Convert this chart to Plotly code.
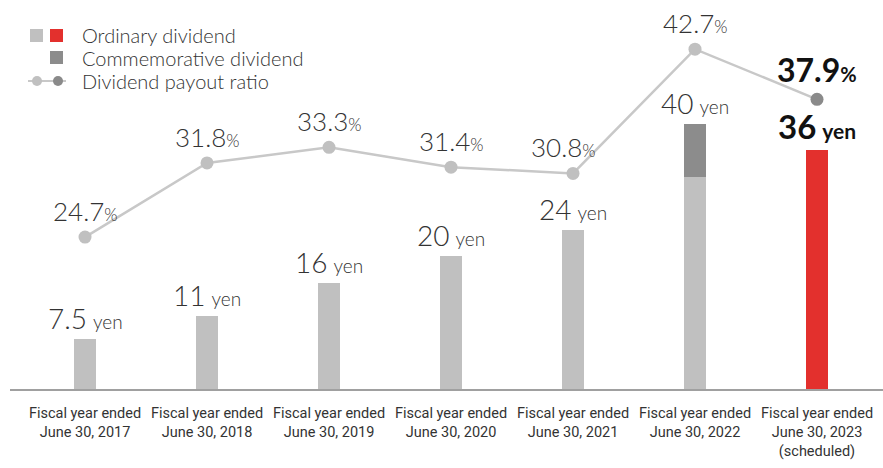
import plotly.graph_objects as go

categories = ["FY2017", "FY2018", "FY2019", "FY2020", "FY2021", "FY2022", "FY2023"]
tick_labels = [
    "Fiscal year ended<br>June 30, 2017",
    "Fiscal year ended<br>June 30, 2018",
    "Fiscal year ended<br>June 30, 2019",
    "Fiscal year ended<br>June 30, 2020",
    "Fiscal year ended<br>June 30, 2021",
    "Fiscal year ended<br>June 30, 2022",
    "Fiscal year ended<br>June 30, 2023<br>(scheduled)",
]
ordinary_dividend = [7.5, 11, 16, 20, 24, 32, 36]
commemorative_dividend = [0, 0, 0, 0, 0, 8, 0]
total_dividend = [7.5, 11, 16, 20, 24, 40, 36]
dividend_labels = ["7.5", "11", "16", "20", "24", "40", "36"]
payout_ratio = [24.7, 31.8, 33.3, 31.4, 30.8, 42.7, 37.9]
payout_labels = ["24.7", "31.8", "33.3", "31.4", "30.8", "42.7", "37.9"]

LIGHT = "#c0c0c0"
DARK = "#8c8c8c"
RED = "#e3302d"
TXT = "#333333"
FONT = "Lato, 'Open Sans', sans-serif"
SP = "\u2002"

xs = list(range(len(categories)))
ord_colors = [LIGHT] * (len(xs) - 1) + [RED]
marker_colors = [LIGHT] * (len(xs) - 1) + ["#8a8a8a"]

fig = go.Figure()
fig.add_trace(go.Bar(x=xs, y=ordinary_dividend, marker_color=ord_colors, width=0.186,
                     marker_line_width=0, showlegend=False, yaxis="y"))
fig.add_trace(go.Bar(x=xs, y=commemorative_dividend, marker_color=DARK, width=0.186,
                     marker_line_width=0, showlegend=False, yaxis="y"))
fig.add_trace(go.Scatter(x=xs, y=payout_ratio, yaxis="y2", mode="lines+markers",
                         line=dict(color="#c8c8c8", width=2.5),
                         marker=dict(size=13, color=marker_colors),
                         showlegend=False))

annotations = []
last = len(xs) - 1
for i in xs:
    if i == last:
        txt = (f"<span style='font-size:33px;font-weight:bold;color:#111'>{dividend_labels[i]}</span>"
               f"{SP}<span style='font-size:21px;font-weight:bold;color:#111'>yen</span>")
    else:
        txt = (f"<span style='font-size:28px;font-weight:300'>{dividend_labels[i]}</span>"
               f"{SP}<span style='font-size:19px;font-weight:300'>yen</span>")
    annotations.append(dict(x=i, y=total_dividend[i], xref="x", yref="y", text=txt,
                            showarrow=False, yanchor="bottom", yshift=2,
                            font=dict(family=FONT, color=TXT)))
    if i == last:
        ptxt = (f"<span style='font-size:32px;font-weight:bold;color:#111'>{payout_labels[i]}</span>"
                f"<span style='font-size:20px;font-weight:bold;color:#111'>%</span>")
        xsft = 0
    else:
        ptxt = (f"<span style='font-size:26px;font-weight:300'>{payout_labels[i]}</span>"
                f"<span style='font-size:17px;font-weight:300'>%</span>")
        xsft = -10 if i == 4 else 0
    annotations.append(dict(x=i, y=payout_ratio[i], xref="x", yref="y2", text=ptxt,
                            showarrow=False, yanchor="bottom", yshift=8, xshift=xsft,
                            font=dict(family=FONT, color=TXT)))

# legend (drawn manually)
W = 873.0
H = 389.0
def px(x):
    return (x - 10) / W
def py(y):
    return (H - y) / H

shapes = []
for (x0, y0, c) in [(30, 29, LIGHT), (50, 29, RED), (50, 51, DARK)]:
    shapes.append(dict(type="rect", xref="paper", yref="paper",
                       x0=px(x0), x1=px(x0 + 13), y0=py(y0 + 13), y1=py(y0),
                       fillcolor=c, line_width=0))
shapes.append(dict(type="line", xref="paper", yref="paper", x0=px(28), x1=px(66),
                   y0=py(81), y1=py(81), line=dict(color="#c8c8c8", width=2)))
for (cx, c) in [(37, LIGHT), (58, "#8a8a8a")]:
    shapes.append(dict(type="circle", xref="paper", yref="paper",
                       x0=px(cx - 5), x1=px(cx + 5), y0=py(86), y1=py(76),
                       fillcolor=c, line_width=0))
for (t, yy) in [("Ordinary dividend", 35), ("Commemorative dividend", 58), ("Dividend payout ratio", 81)]:
    annotations.append(dict(x=px(80), y=py(yy), xref="paper", yref="paper",
                            text=f"<span style='font-weight:300'>{t}</span>",
                            showarrow=False, xanchor="left", yanchor="middle",
                            font=dict(family=FONT, size=20, color=TXT)))

fig.update_layout(
    width=883, height=468,
    margin=dict(l=10, r=0, t=0, b=79),
    paper_bgcolor="white", plot_bgcolor="white",
    barmode="stack",
    xaxis=dict(range=[-0.615, 6.541], tickvals=xs, ticktext=tick_labels,
               showgrid=False, zeroline=False, showline=True, linecolor="#a0a0a0",
               linewidth=1.5, ticks="", automargin=False, ticklabelstandoff=10,
               tickfont=dict(family="'Liberation Sans Narrow', Roboto, sans-serif",
                             size=14.5, color=TXT)),
    yaxis=dict(range=[0, 58.7], visible=False, showgrid=False, zeroline=False),
    yaxis2=dict(range=[10.15, 47.41], overlaying="y", visible=False,
                showgrid=False, zeroline=False),
    annotations=annotations,
    shapes=shapes,
    showlegend=False,
)

fig.write_html("out.html", config={"displayModeBar": False},
               post_script="document.body.style.margin='0';")
